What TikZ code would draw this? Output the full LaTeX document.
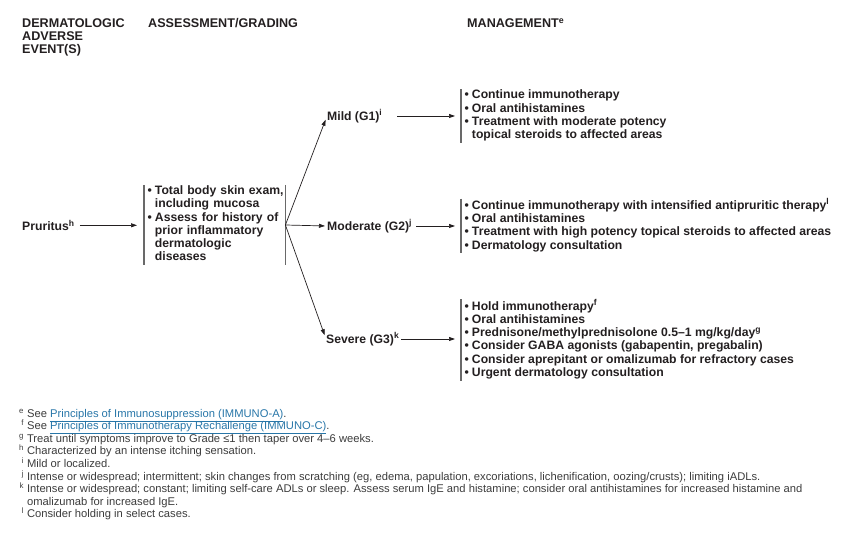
\documentclass[tikz,border=0pt]{standalone}
\usepackage{fontspec}
\setmainfont{Liberation Sans}
\usetikzlibrary{arrows.meta, positioning}
\definecolor{inkgray}{RGB}{35,31,32}
\definecolor{notegray}{RGB}{60,60,60}
\definecolor{bargray}{RGB}{105,105,105}
\definecolor{linkblue}{RGB}{40,118,168}
\newcommand{\supmark}[1]{\textsuperscript{#1}}
\newcommand{\notemark}[1]{\smash{\textsuperscript{#1}}}
\newcommand{\weblink}[1]{\smash{\textcolor{linkblue}{\underline{#1}}}}

\begin{document}
\begin{tikzpicture}[x=1pt, y=-1pt,
        every node/.style={inner sep=0pt, text=inkgray},
        heading/.style={font=\fontsize{12.6}{13}\selectfont\bfseries, anchor=north west, align=left},
        grade/.style={font=\fontsize{12.2}{13.3}\selectfont\bfseries, anchor=base west},
        steps/.style={font=\fontsize{12.2}{13.3}\selectfont\bfseries, anchor=west, inner xsep=3.5pt},
        bar/.style={draw=bargray, line width=1.1pt},
        edge/.style={-{Triangle[length=6pt, width=4pt]}, draw=inkgray, line width=0.7pt},
        notes/.style={font=\fontsize{11.2}{12.6}\selectfont, text=notegray, anchor=north west}
    ]
    \useasboundingbox (0,0) rectangle (851,535);

    % column heads
    \node[heading] (hevent) at (22,18.5) {DERMATOLOGIC\\ADVERSE\\EVENT(S)};
    \node[heading] (hgrade) at (148,18.5) {ASSESSMENT/GRADING};
    \node[heading] (hmgmt) at (467,18.5) {MANAGEMENT\supmark{e}};

    % event and assessment
    \node[grade] (pruritus) at (22,230.5) {Pruritus\supmark{h}};
    \node[steps, text width=134pt] (assess) at (144,225) {%
        \begin{tabular}{@{}l@{\hspace{3pt}}l@{}}
        \textbullet & Total body skin exam,\\
                    & including mucosa\\
        \textbullet & Assess for history of\\
                    & prior inflammatory\\
                    & dermatologic\\
                    & diseases
        \end{tabular}};

    % grades
    \node[grade] (mild) at (327,120) {Mild (G1)\supmark{i}};
    \node[grade] (moderate) at (327,230) {Moderate (G2)\supmark{j}};
    \node[grade] (severe) at (326,343) {Severe (G3)\supmark{k}};

    % management
    \node[steps] (mildlist) at (461,116) {%
        \begin{tabular}{@{}l@{\hspace{3pt}}l@{}}
        \textbullet & Continue immunotherapy\\
        \textbullet & Oral antihistamines\\
        \textbullet & Treatment with moderate potency\\
                    & topical steroids to affected areas
        \end{tabular}};
    \node[steps] (modlist) at (461,226) {%
        \begin{tabular}{@{}l@{\hspace{3pt}}l@{}}
        \textbullet & Continue immunotherapy with intensified antipruritic therapy\supmark{l}\\
        \textbullet & Oral antihistamines\\
        \textbullet & Treatment with high potency topical steroids to affected areas\\
        \textbullet & Dermatology consultation
        \end{tabular}};
    \node[steps] (sevlist) at (461,340) {%
        \begin{tabular}{@{}l@{\hspace{3pt}}l@{}}
        \textbullet & Hold immunotherapy\supmark{f}\\
        \textbullet & Oral antihistamines\\
        \textbullet & Prednisone/methylprednisolone 0.5–1 mg/kg/day\supmark{g}\\
        \textbullet & Consider GABA agonists (gabapentin, pregabalin)\\
        \textbullet & Consider aprepitant or omalizumab for refractory cases\\
        \textbullet & Urgent dermatology consultation
        \end{tabular}};

    % bars
    \draw[bar] (assess.north west) -- (assess.south west);
    \draw[bar] (assess.north east) -- (assess.south east);
    \draw[bar] (mildlist.north west) -- (mildlist.south west);
    \draw[bar] (modlist.north west) -- (modlist.south west);
    \draw[bar] (sevlist.north west) -- (sevlist.south west);

    % arrows
    \draw[edge, shorten <=5pt, shorten >=7pt] (pruritus.east) -- (assess.west |- pruritus.east);
    \draw[edge, shorten >=4pt] (assess.east) -- (mild.west);
    \draw[edge, shorten >=2pt] (assess.east) -- (moderate.west);
    \draw[edge, shorten >=4pt] (assess.east) -- (severe.west);
    \draw[edge, shorten <=15pt, shorten >=6pt] (mild.east) -- (mild.east -| mildlist.west);
    \draw[edge, shorten <=4pt, shorten >=6pt] (moderate.east) -- (moderate.east -| modlist.west);
    \draw[edge, shorten <=2pt, shorten >=6pt] (severe.east) -- (severe.east -| sevlist.west);

    % footnotes
    \node[notes] (footnotes) at (19,408) {%
        \begin{tabular}{@{}r@{\hspace{3pt}}l@{}}
        \notemark{e} & See \weblink{Principles of Immunosuppression (IMMUNO-A)}.\\
        \notemark{f} & See \weblink{Principles of Immunotherapy Rechallenge (IMMUNO-C)}.\\
        \notemark{g} & Treat until symptoms improve to Grade ≤1 then taper over 4–6 weeks.\\
        \notemark{h} & Characterized by an intense itching sensation.\\
        \notemark{i} & Mild or localized.\\
        \notemark{j} & Intense or widespread; intermittent; skin changes from scratching (eg, edema, papulation, excoriations, lichenification, oozing/crusts); limiting iADLs.\\
        \notemark{k} & Intense or widespread; constant; limiting self-care ADLs or sleep. Assess serum IgE and histamine; consider oral antihistamines for increased histamine and\\
                     & omalizumab for increased IgE.\\
        \notemark{l} & Consider holding in select cases.
        \end{tabular}};

\end{tikzpicture}
\end{document}
